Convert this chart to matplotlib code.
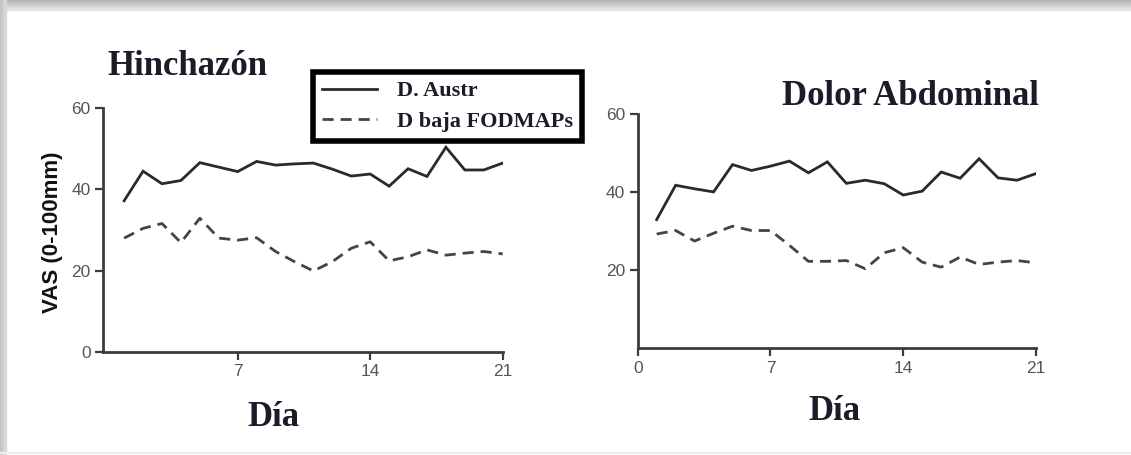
import numpy as np
import matplotlib
matplotlib.use("Agg")
import matplotlib.pyplot as plt
from matplotlib.patches import Rectangle

# days 1..21
days = list(range(1, 22))

# Hinchazon (left panel)
hinch_austr = [37.2, 44.5, 41.4, 42.2, 46.6, 45.5, 44.4, 46.9, 46.0, 46.3, 46.5,
               45.0, 43.3, 43.8, 40.8, 45.1, 43.2, 50.4, 44.8, 44.8, 46.5]
hinch_fodmap = [28.0, 30.4, 31.6, 26.9, 32.9, 28.0, 27.5, 28.1, 24.7, 22.2, 19.9,
                22.2, 25.5, 27.1, 22.4, 23.4, 25.1, 23.8, 24.3, 24.7, 24.1]

# Dolor abdominal (right panel)
dolor_austr = [33.0, 41.8, 40.9, 40.1, 47.1, 45.6, 46.7, 48.0, 45.0, 47.8, 42.3,
               43.1, 42.2, 39.3, 40.3, 45.2, 43.6, 48.6, 43.7, 43.1, 44.8]
dolor_fodmap = [29.3, 30.2, 27.5, 29.5, 31.3, 30.2, 30.2, 26.4, 22.3, 22.3, 22.5,
                20.4, 24.5, 25.8, 22.1, 20.8, 23.4, 21.5, 22.1, 22.5, 21.9]

series_names = ["D. Austr", "D baja FODMAPs"]
titles = ["Hinchazón", "Dolor Abdominal"]
ylabel = "VAS (0-100mm)"
xlabel = "Día"

W, H = 1131, 455
fig = plt.figure(figsize=(W / 100, H / 100), dpi=100)
fig.patch.set_facecolor("white")

# grey frame of the screenshot (top and left shadow)
grays = ["#b4b4b4", "#c0c0c0", "#cbcbcb", "#d6d6d6", "#e2e2e2"]
for i, g in enumerate(grays):
    fig.patches.append(Rectangle((0, 1 - (i + 1) * 2 / H), 1, 2 / H,
                                 transform=fig.transFigure, color=g, zorder=0))
for i, g in enumerate(["#c4c4c4", "#cccccc", "#d8d8d8"]):
    fig.patches.append(Rectangle((i * 2 / W, 0), 2 / W, 1,
                                 transform=fig.transFigure, color=g, zorder=0))
fig.patches.append(Rectangle((0, 2 / H), 1, 1.5 / H, transform=fig.transFigure,
                             color="#eeeeee", zorder=0))

axis_col = "#3c3c3c"
tick_font = dict(family="Liberation Sans", size=12.5, color="#555555")
serif = "Liberation Serif"
txt_col = "#1c1c28"

ax1 = fig.add_axes([103.3 / W, (H - 351.7) / H, 399.4 / W, 243.4 / H])
ax2 = fig.add_axes([637.7 / W, (H - 348.3) / H, 398.3 / W, 234.0 / H])

dash = (0, (4, 2.5))
for ax, a, f in [(ax1, hinch_austr, hinch_fodmap), (ax2, dolor_austr, dolor_fodmap)]:
    la, = ax.plot(days, a, color="#2a2a2a", lw=2.0, solid_joinstyle="miter")
    lf, = ax.plot(days, f, color="#444444", lw=2.0, linestyle=dash)
    ax.set_ylim(0, 60)
    for s in ["top", "right"]:
        ax.spines[s].set_visible(False)
    for s in ["left", "bottom"]:
        ax.spines[s].set_color(axis_col)
        ax.spines[s].set_linewidth(2)
    ax.tick_params(direction="out", length=6, width=1.6, color=axis_col, pad=3)

ax1.set_xlim(-0.1, 21)
ax1.set_xticks([7, 14, 21])
ax1.set_yticks([0, 20, 40, 60])
ax2.set_xlim(0, 21)
ax2.set_xticks([0, 7, 14, 21])
ax2.set_yticks([20, 40, 60])
for ax in (ax1, ax2):
    ax.set_xticklabels([str(t) for t in ax.get_xticks()], **tick_font)
    ax.set_yticklabels([str(t) for t in ax.get_yticks()], **tick_font)

big = dict(family=serif, weight="bold", size=25, color=txt_col, va="baseline")
fig.text(107 / W, (H - 75) / H, titles[0], **big)
fig.text(782 / W, (H - 105) / H, titles[1], **big)
fig.text(247 / W, (H - 426) / H, xlabel, **big)
fig.text(808 / W, (H - 420) / H, xlabel, **big)
fig.text(53 / W, (H - 232) / H, ylabel, family="Liberation Sans", weight="bold",
         size=16, color="#111111", rotation=90, ha="center", va="center")

lines = ax1.get_lines()
leg = fig.legend(lines, series_names, loc="upper left",
                 bbox_to_anchor=(313 / W, (H - 72) / H), borderaxespad=0,
                 fancybox=False, framealpha=1, edgecolor="black",
                 prop=dict(family=serif, weight="bold", size=16),
                 handlelength=2.5, handletextpad=0.9, labelspacing=0.45,
                 borderpad=0.4)
leg.get_frame().set_linewidth(4)
for t in leg.get_texts():
    t.set_color(txt_col)

fig.savefig("out.png", dpi=100)
